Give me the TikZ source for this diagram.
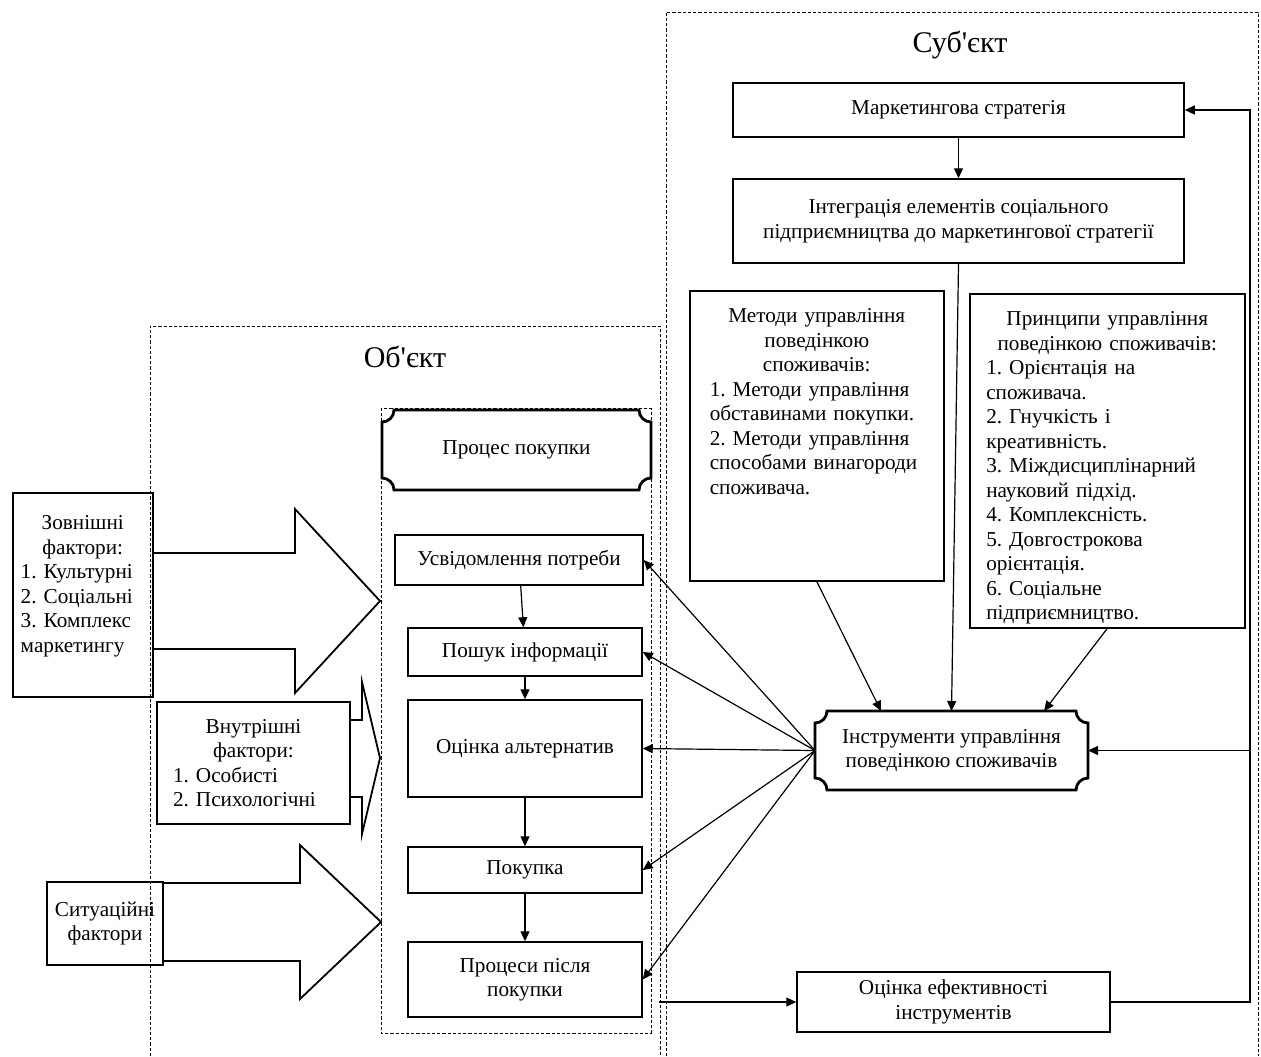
\documentclass[tikz,border=0pt]{standalone}
\usepackage{fontspec}
\setmainfont{Liberation Serif}
\usetikzlibrary{arrows.meta}

\tikzset{
  box/.style={draw, line width=0.75pt, align=center, inner sep=2pt},
  listbox/.style={draw, line width=0.75pt, anchor=north west, inner xsep=11pt},
  frame/.style={line width=0.5pt, dash pattern=on 1.6pt off 1pt},
  link/.style={line width=0.6pt, -{Triangle[length=5pt,width=4.5pt]}},
  bigarrow/.style={line width=0.9pt, line join=miter},
  concave/.style={line width=1.4pt},
  title/.style={font=\fontsize{15}{17}\selectfont},
}

% box with rounded-in corners round a named node
\newcommand{\concaveframe}[1]{%
  \draw[concave] ([xshift=6pt]#1.north west) -- ([xshift=-6pt]#1.north east)
    arc[start angle=180, end angle=270, radius=6pt] -- ([yshift=6pt]#1.south east)
    arc[start angle=90, end angle=180, radius=6pt] -- ([xshift=6pt]#1.south west)
    arc[start angle=0, end angle=90, radius=6pt] -- ([yshift=-6pt]#1.north west)
    arc[start angle=270, end angle=360, radius=6pt] -- cycle;}

\begin{document}
\begin{tikzpicture}[x=0.5pt, y=-0.5pt, font=\fontsize{10.6}{12.25}\selectfont]
  \useasboundingbox (0,0) rectangle (1261,1056);

  % --- Frames ---
  \draw[frame] (666,1056) -- (666,12) -- (1258,12) -- (1258,1056);
  \draw[frame] (150,1056) -- (150,326) -- (660,326) -- (660,1056);
  \draw[frame] (381,408) rectangle (651,1033);
  \node[title] (subjtitle) at (960,45) {Суб\textquotesingle єкт};
  \node[title] (objtitle) at (405,357) {Об\textquotesingle єкт};

  % --- Subject ---
  \node[box, minimum width=225.5pt, minimum height=27pt] (strat) at (958.5,110) {Маркетингова стратегія};
  \node[box, minimum width=225.5pt, minimum height=42pt] (integr) at (958.5,221)
    {Інтеграція елементів соціального\\ підприємництва до маркетингової стратегії};
  \node[listbox, text width=107pt, inner xsep=10pt, inner ysep=6pt, text height=10pt, text depth=123pt] (methods) at (689,290)
    {{\centering Методи управління\\ поведінкою\\ споживачів:\par}\raggedright
     1.~Методи управління\\ обставинами покупки.\\ 2.~Методи управління\\ способами винагороди\\ споживача.};
  \node[listbox, text width=121pt, inner xsep=8.25pt, inner ysep=6pt, text height=10pt, text depth=145pt] (principles) at (969,293)
    {{\centering Принципи управління\\ поведінкою споживачів:\par}\raggedright
     1.~Орієнтація на\\ споживача.\\ 2.~Гнучкість і\\ креативність.\\ 3.~Міждисциплінарний\\ науковий підхід.\\
     4.~Комплексність.\\ 5.~Довгострокова\\ орієнтація.\\ 6.~Соціальне\\ підприємництво.};
  \node[align=center, outer sep=0pt, minimum width=136.5pt, minimum height=39.5pt] (tools) at (951.5,750.5)
    {Інструменти управління\\ поведінкою споживачів};
  \concaveframe{tools}
  \node[box, minimum width=156.5pt, minimum height=30pt] (eff) at (953.5,1002) {Оцінка ефективності\\ інструментів};

  % --- Purchase process ---
  \node[align=center, outer sep=0pt, minimum width=134.5pt, minimum height=40pt] (proc) at (516.5,450) {Процес покупки};
  \concaveframe{proc}
  \node[box, minimum width=124pt, minimum height=25pt] (need) at (519,560) {Усвідомлення потреби};
  \node[box, minimum width=117pt, minimum height=24pt] (search) at (525,652) {Пошук інформації};
  \node[box, minimum width=117pt, minimum height=48.5pt] (eval) at (525,748.5) {Оцінка альтернатив};
  \node[box, minimum width=117pt, minimum height=23pt] (buy) at (525,870) {Покупка};
  \node[box, minimum width=117pt, minimum height=37.5pt] (post) at (525,979.5) {Процеси після\\ покупки};

  % --- Factors ---
  \node[listbox, text width=62pt, inner xsep=4pt, inner ysep=8pt, text height=10.5pt, text depth=75.5pt] (ext) at (12,492)
    {{\centering Зовнішні\\ фактори:\par}\raggedright
     1.~Культурні\\ 2.~Соціальні\\ 3.~Комплекс\\ маркетингу};
  \node[listbox, anchor=center, text width=80.5pt, inner xsep=8pt, minimum height=61pt] (int) at (253.5,763)
    {{\centering Внутрішні\\ фактори:\par}\raggedright
     1.~Особисті\\ 2.~Психологічні};
  \node[box, minimum width=58pt, minimum height=41.5pt] (situ) at (105,923.5) {Ситуаційні\\ фактори};

  % --- Factor arrows ---
  \coordinate (extin) at (380,601);
  \draw[bigarrow] (ext.east |- 0,553) -- (295,553) -- (295,509) -- (extin) -- (295,693) -- (295,649) -- (ext.east |- 0,649);
  \coordinate (intin) at (380,758);
  \draw[bigarrow] (int.east |- 0,720) -- (362,720) -- (362,682) -- (intin) -- (362,834) -- (362,797) -- (int.east |- 0,797);
  \coordinate (situin) at (381,922);
  \draw[bigarrow] (situ.east |- 0,883) -- (300,883) -- (300,845) -- (situin) -- (300,999) -- (300,961) -- (situ.east |- 0,961);

  % --- Process steps ---
  \draw[link] (need) -- (search);
  \draw[link] (search) -- (eval);
  \draw[link] (eval) -- (buy);
  \draw[link] (buy) -- (post);

  % --- Subject links ---
  \draw[link] (strat) -- (integr);
  \draw[link] (integr.south) -- (tools.north);
  \draw[link] (methods.south) -- ([xshift=33pt]tools.north west);
  \draw[link] (principles.south) -- ([xshift=-22pt]tools.north east);

  % --- Tools to process ---
  \draw[link] (tools.west) -- (need.east);
  \draw[link] (tools.west) -- (search.east);
  \draw[link] (tools.west) -- (eval.east);
  \draw[link] (tools.west) -- (buy.east);
  \draw[link] (tools.west) -- (post.east);

  % --- Feedback loop ---
  \coordinate (postout) at (659,1002);
  \draw[link] (postout) -- (eff.west);
  \coordinate (loopcorner) at (1250,110);
  \draw[link] (eff.east) -| (loopcorner) -- (strat.east);
  \draw[link] (tools.east -| loopcorner) -- (tools.east);

\end{tikzpicture}
\end{document}
